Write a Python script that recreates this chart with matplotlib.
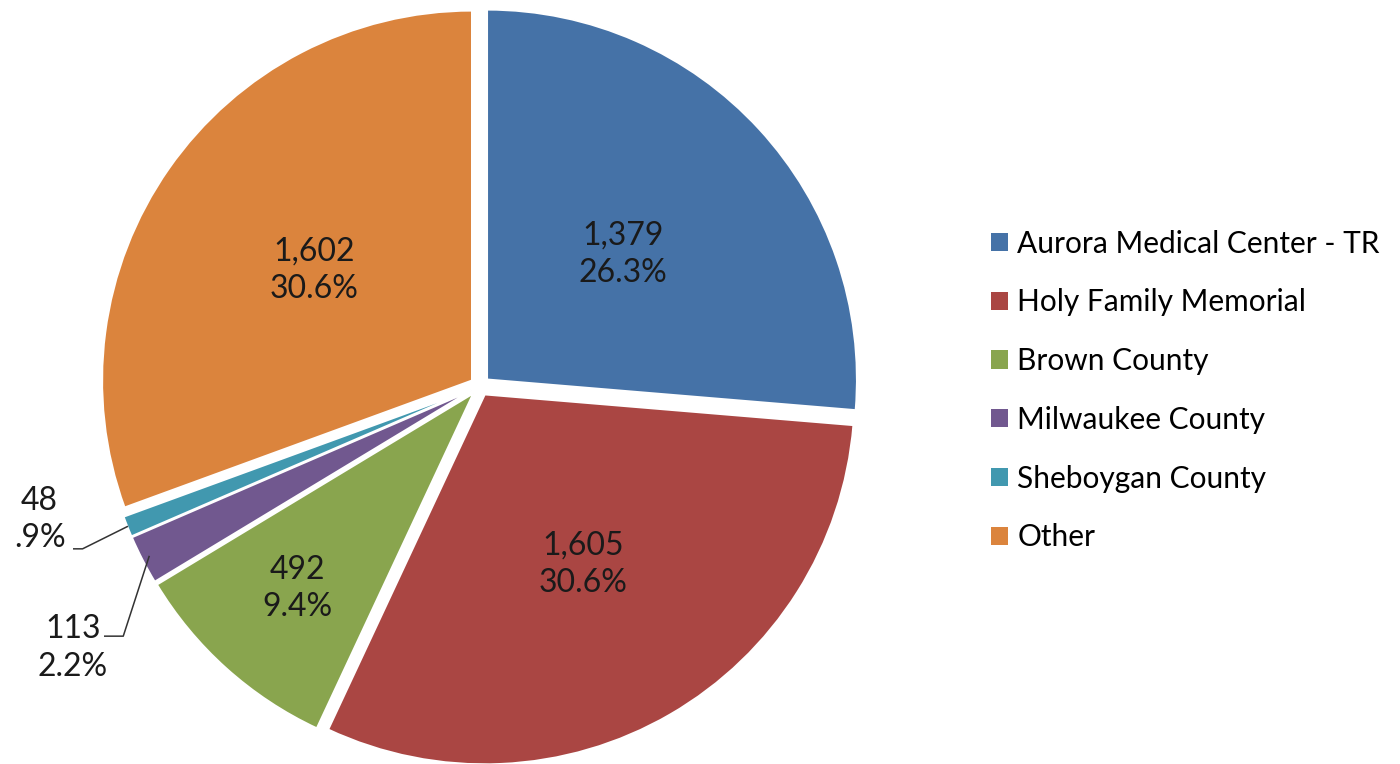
import numpy as np
import matplotlib.pyplot as plt
from matplotlib.patches import Patch

plt.rcParams['font.family'] = ['Lato', 'DejaVu Sans']

names = ["Aurora Medical Center - TR", "Holy Family Memorial", "Brown County",
         "Milwaukee County", "Sheboygan County", "Other"]
counts = [1379, 1605, 492, 113, 48, 1602]
colors = ["#4572A7", "#AA4643", "#89A54E", "#71588F", "#4198AF", "#DB843D"]

total = sum(counts)
pcts = [100.0 * c / total for c in counts]


def pct_text(p):
    s = f"{p:.1f}%"
    if s.startswith("0"):
        s = s[1:]  # Excel style ".9%"
    return s


fig = plt.figure(figsize=(14, 7.64), dpi=100)
ax = fig.add_axes([0.0521, -0.038, 0.5814, 1.0654])

ex = 0.026
wedges, _ = ax.pie(counts, colors=colors, startangle=90, counterclock=False,
                   explode=[ex] * len(counts), radius=1.0,
                   wedgeprops=dict(edgecolor="white", linewidth=1.5))
ax.set_xlim(-1.1, 1.1)
ax.set_ylim(-1.1, 1.1)
ax.set_aspect("equal")
ax.axis("off")

fs = 23
# inside labels
dist = [0.5, 0.53, 0.71, None, None, 0.52]
for w, c, p, d in zip(wedges, counts, pcts, dist):
    if d is None:
        continue
    a = np.deg2rad((w.theta1 + w.theta2) / 2)
    cx, cy = w.center
    ax.text(cx + d * np.cos(a), cy + d * np.sin(a), f"{c:,}\n{pct_text(p)}",
            ha="center", va="center", fontsize=fs, color="#1a1a1a", linespacing=1.3)

# outside labels for the small slices
out_pos = {3: (-1.10, -0.708, -1.014, -0.676), 4: (-1.19, -0.360, -1.124, -0.44)}
for i, (tx, ty, lx, ly) in out_pos.items():
    w = wedges[i]
    a = np.deg2rad((w.theta1 + w.theta2) / 2)
    cx, cy = w.center
    r = 0.98 if i == 3 else 1.0
    px, py = cx + r * np.cos(a), cy + r * np.sin(a)
    ax.text(tx, ty, f"{counts[i]:,}\n{pct_text(pcts[i])}", ha="center", va="center",
            fontsize=fs, color="#1a1a1a", linespacing=1.3)
    ax.plot([lx, lx + 0.05, px], [ly, ly, py], color="#333333", lw=1.1)

handles = [Patch(facecolor=c, edgecolor="none") for c in colors]
fig.legend(handles, names, loc="center left", bbox_to_anchor=(0.708, 0.489),
           frameon=False, fontsize=21.5, handlelength=0.57, handleheight=0.57,
           handletextpad=0.3, labelspacing=1.03, borderaxespad=0, borderpad=0)

fig.savefig("out.png", dpi=100)
